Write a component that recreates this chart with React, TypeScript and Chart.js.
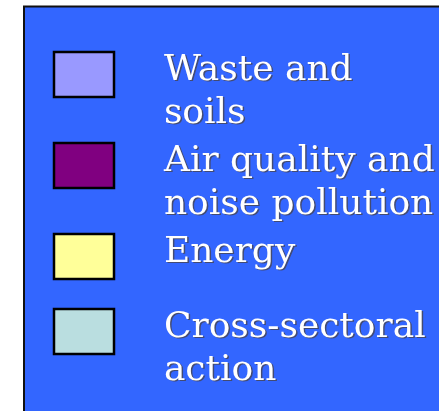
import React, { useEffect, useRef } from "react";
import { Chart, registerables } from "chart.js";

Chart.register(...registerables);

// Legend categories (one entry per line of label text)
const categories: string[][] = [
  ["Waste and", "soils"],
  ["Air quality and", "noise pollution"],
  ["Energy"],
  ["Cross-sectoral", "action"],
];
const colors: string[] = ["#9999FF", "#800080", "#FFFF99", "#BADEE0"];
// zero-height legend rows inserted after each category (to reproduce the original spacing)
const gapsAfter: number[] = [0, 0, 5, 0];

const PANEL_COLOR = "#3366FF";
const INDENT = "  \u2005";
const TEXT_RAISE = 4;

const panelPlugin = {
  id: "legendPanel",
  beforeDraw(chart: any) {
    const { ctx, legend } = chart;
    if (!legend) return;
    const x0 = legend.left - 25;
    const y0 = legend.top - 40.5;
    ctx.save();
    ctx.fillStyle = PANEL_COLOR;
    ctx.fillRect(x0, y0, chart.width + 50, chart.height + 50);
    ctx.strokeStyle = "#111";
    ctx.lineWidth = 2;
    ctx.strokeRect(x0, y0, chart.width + 50, chart.height + 50);
    ctx.restore();
    const orig = ctx.fillText;
    chart.$origFillText = orig;
    ctx.fillText = function (t: string, x: number, y: number, m?: number) {
      this.save();
      this.shadowColor = "rgba(70,70,90,0.85)";
      this.shadowOffsetX = 1.5;
      this.shadowOffsetY = 1.5;
      this.shadowBlur = 0.5;
      orig.call(this, t, x, y - TEXT_RAISE, m);
      this.restore();
    };
  },
  afterDraw(chart: any) {
    if (chart.$origFillText) {
      chart.ctx.fillText = chart.$origFillText;
      chart.$origFillText = null;
    }
  },
};

export default function App() {
  const ref = useRef<HTMLCanvasElement | null>(null);
  useEffect(() => {
    if (!ref.current) return;
    const chart = new Chart(ref.current, {
      type: "bar",
      data: {
        labels: [],
        datasets: categories.map((lines, i) => ({
          label: lines.join(" "),
          data: [],
          backgroundColor: colors[i],
          borderColor: "#000",
        })),
      },
      options: {
        responsive: true,
        maintainAspectRatio: false,
        animation: false,
        events: [],
        layout: { padding: { left: 49, top: 47, right: 0, bottom: 0 } },
        scales: { x: { display: false }, y: { display: false } },
        plugins: {
          tooltip: { enabled: false },
          legend: {
            display: true,
            position: "left",
            align: "start",
            maxWidth: 600,
            labels: {
              boxWidth: 60,
              boxHeight: 45,
              padding: 5,
              color: "#FFFFFF",
              font: { family: "'DejaVu Serif', serif", size: 36, lineHeight: "43px" },
              generateLabels: () => {
                const items: any[] = [];
                categories.forEach((lines, i) => {
                  items.push({
                    text: lines.length === 1 ? INDENT + lines[0] : lines.map((l) => INDENT + l),
                    fillStyle: colors[i],
                    strokeStyle: "#000",
                    lineWidth: 2.5,
                    hidden: false,
                    fontColor: "#FFFFFF",
                    datasetIndex: i,
                  });
                  for (let k = 0; k < gapsAfter[i]; k++) {
                    items.push({
                      text: null,
                      fillStyle: "rgba(0,0,0,0)",
                      strokeStyle: "rgba(0,0,0,0)",
                      lineWidth: 0,
                      hidden: false,
                      fontColor: "rgba(0,0,0,0)",
                    });
                  }
                });
                return items;
              },
            },
          },
        },
      },
      plugins: [panelPlugin],
    });
    return () => chart.destroy();
  }, []);
  return (
    <div style={{ position: "fixed", left: 0, top: 0, width: 439, height: 411, background: "#fff" }}>
      <canvas ref={ref} />
    </div>
  );
}
